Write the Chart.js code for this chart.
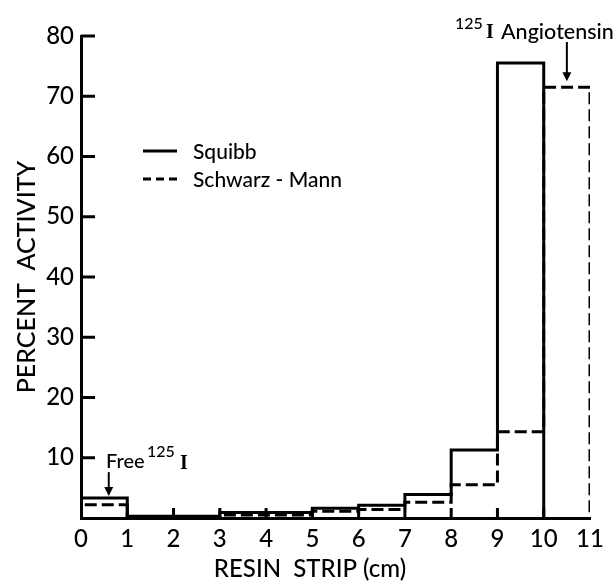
<!DOCTYPE html>
<html>
<head>
<meta charset="utf-8">
<script src="https://cdn.jsdelivr.net/npm/chart.js@4.4.1/dist/chart.umd.min.js"></script>
<style>
  html, body { margin: 0; padding: 0; background: #fff; }
  #wrap { width: 615px; height: 582px; }
</style>
</head>
<body>
<div id="wrap"><canvas id="resinChart"></canvas></div>
<script>
// Bin edges along the resin strip (cm)
const stripEdges = [0, 1, 2, 3, 4, 5, 6, 7, 8, 9, 10, 11];
// Percent activity per 1 cm segment
const squibb = [3.3, 0.3, 0.3, 0.9, 0.9, 1.6, 2.1, 3.9, 11.3, 75.5];
const schwarzMann = [2.2, 0.2, 0.2, 0.5, 0.5, 1.1, 1.4, 2.6, 5.5, 14.3, 71.5];
const yTickValues = [10, 20, 30, 40, 50, 60, 70, 80];
const seriesNames = ['Squibb', 'Schwarz - Mann'];

const FONT = 'Lato, "DejaVu Sans", sans-serif';

// Turn bin values into a histogram outline
function outline(values) {
  const pts = [{ x: stripEdges[0], y: 0 }];
  values.forEach((v, i) => {
    pts.push({ x: stripEdges[i], y: v });
    pts.push({ x: stripEdges[i + 1], y: v });
  });
  pts.push({ x: stripEdges[values.length], y: 0 });
  return pts;
}

function line(ctx, x1, y1, x2, y2) {
  ctx.beginPath();
  ctx.moveTo(x1, y1);
  ctx.lineTo(x2, y2);
  ctx.stroke();
}

function arrowDown(ctx, x, yFrom, yTo) {
  ctx.lineWidth = 2;
  line(ctx, x, yFrom, x, yTo - 2);
  ctx.beginPath();
  ctx.moveTo(x - 4.5, yTo - 9);
  ctx.lineTo(x, yTo);
  ctx.lineTo(x + 4.5, yTo - 9);
  ctx.closePath();
  ctx.fill();
}

// Inward ticks, legend, arrows and labels
const annotate = {
  id: 'annotate',
  afterDraw(chart) {
    const { ctx, chartArea: a, scales: { x, y } } = chart;
    ctx.save();
    ctx.strokeStyle = '#000';
    ctx.fillStyle = '#000';

    ctx.lineWidth = 3;
    yTickValues.forEach(v => {
      const py = y.getPixelForValue(v);
      line(ctx, a.left, py, a.left + 14, py);
    });
    stripEdges.slice(1, -1).forEach(v => {
      const px = x.getPixelForValue(v);
      line(ctx, px, a.bottom, px, a.bottom - 10);
    });

    // legend
    ctx.lineWidth = 3;
    line(ctx, 143, 151, 177, 151);
    ctx.setLineDash([8, 5]);
    line(ctx, 143, 179, 177, 179);
    ctx.setLineDash([]);
    ctx.font = '500 21px ' + FONT;
    ctx.textBaseline = 'middle';
    ctx.textAlign = 'left';
    ctx.fillText(seriesNames[0], 193, 152);
    ctx.fillText(seriesNames[1], 193, 180);

    // Free 125I
    const fx = x.getPixelForValue(0.6);
    const fTip = y.getPixelForValue(squibb[0]) - 2;
    arrowDown(ctx, fx, fTip - 24, fTip);
    ctx.font = '500 20px ' + FONT;
    ctx.fillText('Free', 106, 462);
    ctx.font = '500 16px ' + FONT;
    ctx.fillText('125', 147, 452);
    ctx.font = 'bold 20px "Liberation Serif", serif';
    ctx.fillText('I', 180, 464);

    // 125I Angiotensin
    const ax = x.getPixelForValue(10.5);
    const aTip = y.getPixelForValue(schwarzMann[10]) - 6;
    arrowDown(ctx, ax, 42, aTip);
    ctx.font = '500 16px ' + FONT;
    ctx.fillText('125', 455, 24);
    ctx.font = 'bold 20px "Liberation Serif", serif';
    ctx.fillText('I', 486, 33);
    ctx.font = '500 21.5px ' + FONT;
    ctx.fillText('Angiotensin', 501, 32);

    // x axis title
    ctx.font = '500 24px ' + FONT;
    ctx.textAlign = 'center';
    ctx.fillText('RESIN  STRIP (cm)', 310, 569);
    ctx.restore();
  }
};

new Chart(document.getElementById('resinChart'), {
  type: 'line',
  data: {
    datasets: [
      {
        label: seriesNames[0],
        data: outline(squibb),
        borderColor: '#000',
        borderWidth: 3,
        pointRadius: 0,
        tension: 0,
        fill: false
      },
      {
        label: seriesNames[1],
        data: outline(schwarzMann),
        borderColor: '#000',
        borderWidth: 3,
        borderDash: [12, 5],
        pointRadius: 0,
        tension: 0,
        fill: false
      }
    ]
  },
  options: {
    responsive: true,
    maintainAspectRatio: false,
    animation: false,
    layout: { padding: { top: 36, right: 25, left: 0, bottom: 0 } },
    plugins: { legend: { display: false }, tooltip: { enabled: false } },
    scales: {
      x: {
        type: 'linear',
        min: 0,
        max: 11,
        grid: { drawOnChartArea: false, drawTicks: false },
        border: { display: true, color: '#000', width: 3 },
        ticks: { stepSize: 1, color: '#000', padding: 7, font: { family: FONT, size: 24, weight: 500 } },
        afterFit: scale => { scale.height = 64; }
      },
      y: {
        min: 0,
        max: 80,
        grid: { drawOnChartArea: false, drawTicks: false },
        border: { display: true, color: '#000', width: 3 },
        ticks: {
          stepSize: 10,
          color: '#000',
          padding: 7,
          font: { family: FONT, size: 24, weight: 500 },
          callback: v => (v === 0 ? '' : v)
        },
        title: {
          display: true,
          text: 'PERCENT  ACTIVITY',
          color: '#000',
          padding: { top: 12, bottom: 0 },
          font: { family: FONT, size: 25, weight: 500 }
        },
        afterFit: scale => { scale.width = 81; }
      }
    }
  },
  plugins: [annotate]
});
</script>
</body>
</html>
